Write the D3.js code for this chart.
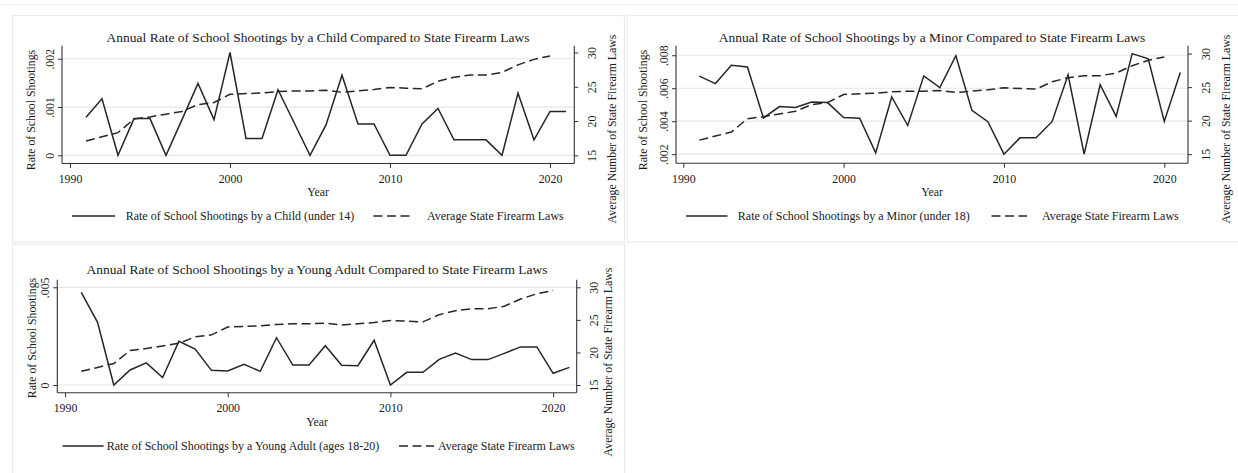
<!DOCTYPE html>
<html>
<head>
<meta charset="utf-8">
<script src="https://cdn.jsdelivr.net/npm/d3@7"></script>
<style>
  html, body { margin: 0; padding: 0; background: #ffffff; }
  svg { display: block; }
  text { font-family: "Liberation Serif", "Times New Roman", serif; fill: #1a1a1a; }
</style>
</head>
<body>
<svg id="chart" width="1238" height="473"></svg>
<script>
// ---------------- DATA ----------------
const years = [1991,1992,1993,1994,1995,1996,1997,1998,1999,2000,2001,2002,2003,2004,2005,2006,2007,2008,2009,2010,2011,2012,2013,2014,2015,2016,2017,2018,2019,2020,2021];
const lawYears = [1991,1992,1993,1994,1995,1996,1997,1998,1999,2000,2001,2002,2003,2004,2005,2006,2007,2008,2009,2010,2011,2012,2013,2014,2015,2016,2017,2018,2019,2020];

const childRate = [0.00079,0.00117,0,0.00076,0.00076,0,0.00074,0.00149,0.00074,0.00213,0.00035,0.00035,0.00136,0.00068,0,0.00063,0.00166,0.00065,0.00065,0,0,0.00065,0.00097,0.00032,0.00032,0.00032,0,0.00129,0.00032,0.00091,0.00091];
const minorRate = [0.00673,0.00628,0.00739,0.00729,0.0042,0.00489,0.00483,0.00517,0.00513,0.00422,0.00418,0.00208,0.00547,0.00374,0.00675,0.00604,0.00797,0.00466,0.00397,0.002,0.00299,0.00299,0.00397,0.00681,0.002,0.00621,0.00429,0.0081,0.00778,0.00399,0.00695];
const youngAdultRate = [0.00474,0.00321,0,0.00077,0.00113,0.00038,0.00224,0.00184,0.00075,0.00072,0.00106,0.0007,0.00242,0.00102,0.00102,0.00201,0.00101,0.00099,0.00229,0,0.00065,0.00065,0.00131,0.00164,0.0013,0.0013,0.00162,0.00195,0.00195,0.0006,0.0009];
const firearmLaws = [17.1,17.7,18.3,20.3,20.6,21.0,21.4,22.4,22.7,23.9,24.0,24.1,24.3,24.4,24.4,24.5,24.2,24.4,24.6,24.9,24.8,24.7,25.8,26.4,26.7,26.7,27.1,28.2,29.0,29.5];

const xTicks = [1990,2000,2010,2020];
const rightTicks = [15,20,25,30];
const childTicks = [0,0.001,0.002];
const childTickLabels = ["0",".001",".002"];
const minorTicks = [0.002,0.004,0.006,0.008];
const minorTickLabels = [".002",".004",".006",".008"];
const youngTicks = [0,0.005];
const youngTickLabels = ["0",".005"];

const titles = [
  "Annual Rate of School Shootings by a Child Compared to State Firearm Laws",
  "Annual Rate of School Shootings by a Minor Compared to State Firearm Laws",
  "Annual Rate of School Shootings by a Young Adult Compared to State Firearm Laws"
];
const legendLabels = [
  "Rate of School Shootings by a Child (under 14)",
  "Rate of School Shootings by a Minor (under 18)",
  "Rate of School Shootings by a Young Adult (ages 18-20)"
];
const lawsLabel = "Average State Firearm Laws";
const leftTitle = "Rate of School Shootings";
const rightTitle = "Average Number of State Firearm Laws";
const xTitle = "Year";

// ---------------- LAYOUT ----------------
const panels = [
  { title: titles[0], rate: childRate, ticks: childTicks, tickLabels: childTickLabels, legend: legendLabels[0],
    frame: [12.5, 15.5, 624.5, 242],
    L: {axL:62, axR:574.3, axB:163.5, axT:45.7, x0:70, x1:566, yB:155.3, yT:52.5, titleX:318, titleY:37.7,
        xlabY:179, yearX:318, yearY:191.7, legY:216, lTitleX:30.5, lTitleY:110, rTitleX:611.5, rTitleY:129,
        s0:72, s1:115, t0:125.7, d0:373.5, d1:413, t1:427} },
  { title: titles[1], rate: minorRate, ticks: minorTicks, tickLabels: minorTickLabels, legend: legendLabels[1],
    frame: [627, 15.5, 1240, 242],
    L: {axL:676, axR:1188, axB:163.3, axT:45.7, x0:683.3, x1:1180.3, yB:154.2, yT:53.6, titleX:932, titleY:37.2,
        xlabY:179, yearX:932, yearY:191.7, legY:216, lTitleX:643, lTitleY:110, rTitleX:1226, rTitleY:129,
        s0:686, s1:727.5, t0:737.8, d0:991.5, d1:1027, t1:1042} },
  { title: titles[2], rate: youngAdultRate, ticks: youngTicks, tickLabels: youngTickLabels, legend: legendLabels[2],
    frame: [12.5, 244, 624.5, 475],
    L: {axL:57.3, axR:576.7, axB:392.8, axT:279.7, x0:65, x1:569.4, yB:385, yT:287.3, titleX:317, titleY:269.3,
        xlabY:408, yearX:317, yearY:421.7, legY:446, lTitleX:32, lTitleY:338, rTitleX:608.3, rTitleY:362,
        s0:62.5, s1:103.6, t0:106.7, d0:399, d1:434, t1:438} }
];

const svg = d3.select("#chart");
const LINE = "#262626";
const AXIS = "#333333";
const GRID = "#e6e6e6";
const DASH = "9,4.5";
const LW = 1.5;

// outer faint line at top
svg.append("line").attr("x1",0).attr("x2",1238).attr("y1",4.5).attr("y2",4.5)
  .attr("stroke","#efefef").attr("stroke-width",1);

panels.forEach(p => {
  const L = p.L;
  const g = svg.append("g");

  // panel frame
  g.append("rect")
    .attr("x", p.frame[0]).attr("y", p.frame[1])
    .attr("width", p.frame[2]-p.frame[0]).attr("height", p.frame[3]-p.frame[1])
    .attr("fill","none").attr("stroke","#ebebeb").attr("stroke-width",1.2);

  const x = d3.scaleLinear().domain([1990, 2021]).range([L.x0, L.x1]);
  const lo = Math.min(d3.min(p.rate), d3.min(p.ticks));
  const hi = Math.max(d3.max(p.rate), d3.max(p.ticks));
  const yL = d3.scaleLinear().domain([lo, hi]).range([L.yB, L.yT]);
  const lawLo = Math.min(d3.min(firearmLaws), d3.min(rightTicks));
  const lawHi = Math.max(d3.max(firearmLaws), d3.max(rightTicks));
  const yR = d3.scaleLinear().domain([lawLo, lawHi]).range([L.yB, L.yT]);

  // gridlines
  g.selectAll(".grid").data(p.ticks).join("line")
    .attr("x1", L.axL).attr("x2", L.axR)
    .attr("y1", d => yL(d)).attr("y2", d => yL(d))
    .attr("stroke", GRID).attr("stroke-width", 1.2);

  // axis lines
  g.append("line").attr("x1",L.axL).attr("x2",L.axL).attr("y1",L.axT).attr("y2",L.axB).attr("stroke",AXIS).attr("stroke-width",1.1);
  g.append("line").attr("x1",L.axR).attr("x2",L.axR).attr("y1",L.axT).attr("y2",L.axB).attr("stroke",AXIS).attr("stroke-width",1.1);
  g.append("line").attr("x1",L.axL).attr("x2",L.axR).attr("y1",L.axB).attr("y2",L.axB).attr("stroke",AXIS).attr("stroke-width",1.1);

  // x axis
  const gx = g.append("g").attr("transform", `translate(0,${L.axB})`)
    .call(d3.axisBottom(x).tickValues(xTicks).tickFormat(d3.format("d")).tickSize(4.5).tickSizeOuter(0));
  gx.select(".domain").remove();
  gx.selectAll(".tick line").attr("stroke", AXIS);
  gx.selectAll(".tick text").attr("y", L.xlabY - L.axB).attr("dy","0.35em")
    .attr("font-size", 11.8).attr("font-family", null).style("fill","#1a1a1a");

  // left axis
  const gl = g.append("g").attr("transform", `translate(${L.axL},0)`)
    .call(d3.axisLeft(yL).tickValues(p.ticks).tickFormat((d,i) => p.tickLabels[i]).tickSize(4).tickSizeOuter(0));
  gl.select(".domain").remove();
  gl.selectAll(".tick line").attr("stroke", AXIS);
  gl.selectAll(".tick text").attr("x",0).attr("y",0).attr("dy","0.35em")
    .attr("text-anchor","middle").attr("transform","translate(-12,0) rotate(-90)")
    .attr("font-size", 11.8).attr("font-family", null).style("fill","#1a1a1a");

  // right axis
  const gr = g.append("g").attr("transform", `translate(${L.axR},0)`)
    .call(d3.axisRight(yR).tickValues(rightTicks).tickFormat(d3.format("d")).tickSize(4).tickSizeOuter(0));
  gr.select(".domain").remove();
  gr.selectAll(".tick line").attr("stroke", AXIS);
  gr.selectAll(".tick text").attr("x",0).attr("y",0).attr("dy","0.35em")
    .attr("text-anchor","middle").attr("transform","translate(17.5,0) rotate(-90)")
    .attr("font-size", 11.8).attr("font-family", null).style("fill","#1a1a1a");

  // lines
  const rateLine = d3.line().x((d,i) => x(years[i])).y(d => yL(d));
  const lawLine = d3.line().x((d,i) => x(lawYears[i])).y(d => yR(d));
  g.append("path").datum(firearmLaws).attr("d", lawLine)
    .attr("fill","none").attr("stroke",LINE).attr("stroke-width",LW).attr("stroke-dasharray",DASH);
  g.append("path").datum(p.rate).attr("d", rateLine)
    .attr("fill","none").attr("stroke",LINE).attr("stroke-width",LW).attr("stroke-linejoin","miter");

  // title
  g.append("text").attr("x", L.titleX).attr("y", L.titleY).attr("dy","0.35em")
    .attr("text-anchor","middle").attr("font-size", 13.5).text(p.title);

  // axis titles
  g.append("text").attr("x", L.yearX).attr("y", L.yearY).attr("dy","0.35em")
    .attr("text-anchor","middle").attr("font-size", 11.8).text(xTitle);
  g.append("text").attr("transform", `translate(${L.lTitleX},${L.lTitleY}) rotate(-90)`).attr("dy","0.35em")
    .attr("text-anchor","middle").attr("font-size", 11.8).text(leftTitle);
  g.append("text").attr("transform", `translate(${L.rTitleX},${L.rTitleY}) rotate(-90)`).attr("dy","0.35em")
    .attr("text-anchor","middle").attr("font-size", 11.8).text(rightTitle);

  // legend
  g.append("line").attr("x1",L.s0).attr("x2",L.s1).attr("y1",L.legY).attr("y2",L.legY)
    .attr("stroke",LINE).attr("stroke-width",LW);
  g.append("text").attr("x",L.t0).attr("y",L.legY).attr("dy","0.35em").attr("font-size",12).text(p.legend);
  g.append("line").attr("x1",L.d0).attr("x2",L.d1).attr("y1",L.legY).attr("y2",L.legY)
    .attr("stroke",LINE).attr("stroke-width",LW).attr("stroke-dasharray",DASH);
  g.append("text").attr("x",L.t1).attr("y",L.legY).attr("dy","0.35em").attr("font-size",12).text(lawsLabel);
});
</script>
</body>
</html>
